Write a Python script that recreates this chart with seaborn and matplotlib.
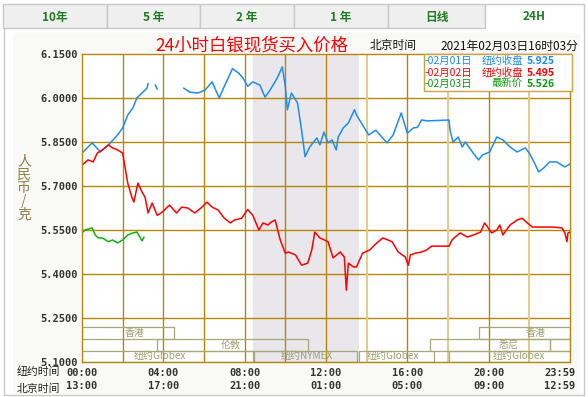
import numpy as np
import pandas as pd
import matplotlib
matplotlib.use("Agg")
import matplotlib.pyplot as plt
import seaborn as sns
from matplotlib.patches import Rectangle
from matplotlib.lines import Line2D
import matplotlib.transforms as mtransforms

# ---------------- data ----------------
blue_label = "02月01日"
red_label = "02月02日"
green_label = "02月03日"

blue_h1 = [0, 0.5, 0.9, 1.3, 1.75, 2.0, 2.25, 2.5, 2.7, 2.95, 3.2, 3.25]
blue_v1 = [5.812, 5.847, 5.816, 5.84, 5.874, 5.898, 5.942, 5.966, 6.0, 6.017, 6.034, 6.05]
blue_h2 = [3.6, 3.7]
blue_v2 = [6.045, 6.03]
blue_h3 = [5.0, 5.3, 5.7, 6.05, 6.4, 6.75, 7.0, 7.4, 7.7, 7.9, 8.15, 8.4, 8.75, 9.0,
           9.25, 9.6, 9.85, 10.0, 10.1, 10.3, 10.6, 10.8, 10.97, 11.2, 11.55, 11.7,
           11.9, 12.1, 12.3, 12.5, 12.6, 12.85, 13.1, 13.4, 13.5, 13.8, 14.1, 14.45,
           15.0, 15.3, 15.7, 16.0, 16.3, 16.5, 16.7, 17.0, 18.05, 18.1, 18.25, 18.5,
           18.7, 18.85, 19.2, 19.5, 19.7, 20.05, 20.4, 20.7, 21.05, 21.4, 21.8, 22.0,
           22.3, 22.45, 22.7, 23.0, 23.35, 23.75, 24.0]
blue_v3 = [6.034, 6.02, 6.017, 6.027, 6.055, 6.0, 6.04, 6.10, 6.085, 6.07, 6.04, 6.055,
           6.044, 6.003, 6.027, 6.068, 6.106, 6.04, 5.96, 6.017, 5.983, 5.89, 5.80,
           5.833, 5.864, 5.84, 5.884, 5.847, 5.857, 5.823, 5.867, 5.898, 5.915, 5.96,
           5.942, 5.908, 5.874, 5.89, 5.847, 5.874, 5.949, 5.88, 5.898, 5.90, 5.925,
           5.922, 5.925, 5.89, 5.85, 5.867, 5.833, 5.85, 5.816, 5.789, 5.806, 5.816,
           5.867, 5.857, 5.833, 5.816, 5.83, 5.812, 5.772, 5.748, 5.761, 5.782, 5.782,
           5.765, 5.775]

red_h = [0, 0.3, 0.55, 0.75, 1.0, 1.3, 1.5, 1.75, 2.0, 2.1, 2.25, 2.45, 2.55, 2.75,
         2.95, 3.1, 3.25, 3.45, 3.7, 3.95, 4.3, 4.65, 4.9, 5.2, 5.55, 5.9, 6.15, 6.4,
         6.7, 7.0, 7.3, 7.5, 7.85, 8.15, 8.4, 8.7, 8.9, 9.15, 9.3, 9.5, 9.75, 10.0,
         10.15, 10.5, 10.8, 11.1, 11.3, 11.45, 11.7, 12.1, 12.35, 12.7, 12.9, 13.0,
         13.1, 13.35, 13.5, 13.8, 14.15, 14.5, 14.8, 15.25, 15.55, 15.9, 16.05, 16.15,
         16.4, 16.7, 16.95, 17.2, 18.05, 18.2, 18.35, 18.6, 18.95, 19.25, 19.6, 19.8,
         20.15, 20.4, 20.55, 20.7, 21.05, 21.4, 21.65, 21.9, 22.15, 22.55, 22.85, 23.2,
         23.6, 23.75, 23.85, 23.9, 24.0]
red_v = [5.771, 5.789, 5.782, 5.812, 5.823, 5.84, 5.83, 5.823, 5.812, 5.771, 5.71,
         5.662, 5.645, 5.71, 5.68, 5.662, 5.608, 5.642, 5.60, 5.611, 5.635, 5.608,
         5.628, 5.625, 5.608, 5.628, 5.645, 5.628, 5.618, 5.59, 5.574, 5.584, 5.59,
         5.62, 5.60, 5.55, 5.574, 5.567, 5.577, 5.584, 5.516, 5.471, 5.475, 5.465,
         5.43, 5.437, 5.482, 5.543, 5.523, 5.51, 5.455, 5.475, 5.458, 5.345, 5.437,
         5.424, 5.424, 5.471, 5.482, 5.506, 5.523, 5.51, 5.475, 5.458, 5.43, 5.465,
         5.471, 5.475, 5.482, 5.495, 5.495, 5.516, 5.526, 5.54, 5.526, 5.533, 5.543,
         5.574, 5.54, 5.55, 5.567, 5.533, 5.567, 5.584, 5.59, 5.574, 5.56, 5.56, 5.56,
         5.56, 5.557, 5.54, 5.51, 5.54, 5.543]

green_h = [0, 0.15, 0.5, 0.65, 0.8, 1.0, 1.3, 1.5, 1.75, 2.0, 2.25, 2.5, 2.7, 2.85,
           2.95, 3.05]
green_v = [5.54, 5.55, 5.557, 5.533, 5.523, 5.523, 5.51, 5.516, 5.506, 5.516, 5.533,
           5.54, 5.543, 5.526, 5.513, 5.526]

legend_dates = ["-02月01日", "-02月02日", "-02月03日"]
legend_kinds = ["纽约收盘", "纽约收盘", "最新价"]
legend_values = ["5.925", "5.495", "5.526"]

y_ticks = [6.15, 6.00, 5.85, 5.70, 5.55, 5.40, 5.25, 5.10]
y_tick_labels = ["6.1500", "6.0000", "5.8500", "5.7000", "5.5500", "5.4000", "5.2500", "5.1000"]
x_ticks = [0, 4, 8, 12, 16, 20, 24]
ny_labels = ["00:00", "04:00", "08:00", "12:00", "16:00", "20:00", "23:59"]
bj_labels = ["13:00", "17:00", "21:00", "01:00", "05:00", "09:00", "12:59"]

tab_labels = ["10年", "5 年", "2 年", "1 年", "日线", "24H"]

# market sessions: label, row, start hour, end hour, label hour
mkt_label = ["香港", "伦敦", "纽约Globex", "纽约NYMEX", "纽约Globex", "悉尼", "", "香港", "纽约Globex"]
mkt_row = [0, 1, 2, 2, 2, 1, 1, 0, 2]
mkt_start = [0, 3.7, 0, 8.45, 13.6, 17.1, 23.0, 19.5, 18.05]
mkt_end = [4.5, 11.1, 8.4, 13.5, 17.3, 23.0, 24.0, 24.0, 24.0]
mkt_text_h = [2.6, 7.3, 3.85, 11.05, 15.3, 21.0, 23.5, 22.3, 21.5]
row_top = [5.2193, 5.178, 5.1375]
row_bot = [5.178, 5.1375, 5.10]

nymex_span = (8.4, 13.6)

# ---------------- figure ----------------
W, H = 588, 397
sns.set_style("white")
plt.rcParams['font.family'] = ['Noto Sans CJK SC', 'DejaVu Sans']

fig = plt.figure(figsize=(W / 100, H / 100), dpi=100)
fig.patch.set_facecolor('white')


def fx(x):
    return x / W


def fy(y):
    return 1 - y / H


def frect(x0, y0, x1, y1, **kw):
    r = Rectangle((fx(x0), fy(y1)), fx(x1) - fx(x0), fy(y0) - fy(y1),
                  transform=fig.transFigure, **kw)
    fig.add_artist(r)
    return r


def fline(xs, ys, **kw):
    fig.add_artist(Line2D([fx(x) for x in xs], [fy(y) for y in ys],
                          transform=fig.transFigure, **kw))


# outer frame and panel
frect(13, 33, 580, 394, facecolor='#F9F9F7', edgecolor='none', zorder=-5)
fline([4, 4, 584, 584], [28, 395, 395, 28], color='#C8C8C8', lw=1.0, zorder=-4)

# tabs
edges = [3, 107, 200, 294, 388, 485, 584]
for i, lab in enumerate(tab_labels):
    x0, x1 = edges[i], edges[i + 1]
    active = (i == len(tab_labels) - 1)
    if active:
        frect(x0, 4, x1, 29, facecolor='white', edgecolor='none', zorder=-3)
        fline([x0, x0, x1, x1], [28, 4, 4, 28], color='#C8C8C8', lw=1.0, zorder=-2)
    else:
        frect(x0, 4, x1, 28, facecolor='#EFEFEF', edgecolor='#C8C8C8', lw=1.0, zorder=-3)
    fig.text(fx((x0 + x1) / 2), fy(17), lab, ha='center', va='center', fontsize=8.5,
             fontweight='bold', color='#1E7B1E')

# main axes
ax = fig.add_axes([fx(82), fy(362), fx(570) - fx(82), fy(54) - fy(362)])
ax.set_facecolor('white')
ax.set_xlim(0, 24)
ax.set_ylim(5.10, 6.15)

gold = '#B8860B'
pale = '#E2CD8C'
ax.axvspan(*nymex_span, color='#E9E6EC', zorder=0, lw=0)
for v in y_ticks[1:-1]:
    ax.axhline(v, color=gold, lw=1.0, zorder=1)
for h in range(2, 24, 2):
    if h in (14, 18, 22):
        ax.axvline(h, color=pale, lw=1.5, zorder=1)
    else:
        ax.axvline(h, color=gold, lw=1.0, zorder=1)

# market sessions
for lab, r, h0, h1, ht in zip(mkt_label, mkt_row, mkt_start, mkt_end, mkt_text_h):
    ax.add_patch(Rectangle((h0, row_bot[r]), h1 - h0, row_top[r] - row_bot[r], fill=False,
                           edgecolor='#A8A87C', lw=0.9, zorder=2))
    if lab:
        ax.text(ht, (row_top[r] + row_bot[r]) / 2, lab, ha='center', va='center',
                fontsize=7.2, color='#9E9E72', zorder=3)

# series lines
frames = []
for seg, (hh, vv, s) in enumerate([(blue_h1, blue_v1, blue_label), (blue_h2, blue_v2, blue_label),
                                   (blue_h3, blue_v3, blue_label), (red_h, red_v, red_label),
                                   (green_h, green_v, green_label)]):
    frames.append(pd.DataFrame({"hour": hh, "price": vv, "series": s, "seg": seg}))
df = pd.concat(frames, ignore_index=True)
palette = {blue_label: '#1E8CF0', red_label: '#FF0000', green_label: '#10B010'}
sns.lineplot(data=df, x="hour", y="price", hue="series", units="seg", estimator=None,
             palette=palette, lw=1.1, legend=False, sort=False, ax=ax, zorder=4)

# axes styling
for sp in ax.spines.values():
    sp.set_color(gold)
    sp.set_linewidth(1.0)
    sp.set_zorder(5)
ax.set_yticks(y_ticks)
ax.set_yticklabels(y_tick_labels, fontfamily='DejaVu Sans Mono', fontweight='bold',
                   fontsize=7.5, color='#333333')
ax.set_xticks(x_ticks)
ax.set_xticklabels([f"{a}\n{b}" for a, b in zip(ny_labels, bj_labels)],
                   fontfamily='DejaVu Sans Mono', fontweight='bold', fontsize=7.5,
                   color='#333333', linespacing=1.45)
ax.tick_params(axis='y', length=0, pad=3)
ax.tick_params(axis='x', length=0, pad=4)
ax.set_xlabel("")
ax.set_ylabel("")
lab_last = ax.get_xticklabels()[-1]
lab_last.set_transform(lab_last.get_transform() +
                       mtransforms.ScaledTranslation(-10 / 100, 0, fig.dpi_scale_trans))

# title & time
fig.text(fx(252), fy(45), "24小时白银现货买入价格", ha='center', va='center',
         fontsize=12.5, color='#FF0000')
fig.text(fx(370), fy(46), "北京时间", ha='left', va='center', fontsize=8.5, color='#111111')
fig.text(fx(578), fy(46), "2021年02月03日16时03分", ha='right', va='center', fontsize=8.5,
         color='#111111')

# y label
fig.text(fx(24), fy(188), "人\n民\n币\n/\n克", ha='center', va='center', fontsize=10,
         color='#8B8045', linespacing=0.95)

# row labels
fig.text(fx(17), fy(372), "纽约时间", ha='left', va='center', fontsize=7.8, color='#222222')
fig.text(fx(17), fy(389), "北京时间", ha='left', va='center', fontsize=7.8, color='#222222')

# legend box
frect(424, 54, 572, 91, facecolor='white', edgecolor='#C9A24A', lw=1.0, zorder=10)
leg_colors = [palette[blue_label], palette[red_label], '#109910']
for i, (d, k, v, c) in enumerate(zip(legend_dates, legend_kinds, legend_values, leg_colors)):
    yy = 61 + i * 11.5
    fig.text(fx(425), fy(yy), d, ha='left', va='center', fontsize=7.5, color=c, zorder=11)
    fig.text(fx(523), fy(yy), k, ha='right', va='center', fontsize=7.5, color=c, zorder=11)
    fig.text(fx(527), fy(yy), v, ha='left', va='center', fontsize=7.5, color=c,
             fontweight='bold', zorder=11)

fig.savefig("out.png", dpi=100)
